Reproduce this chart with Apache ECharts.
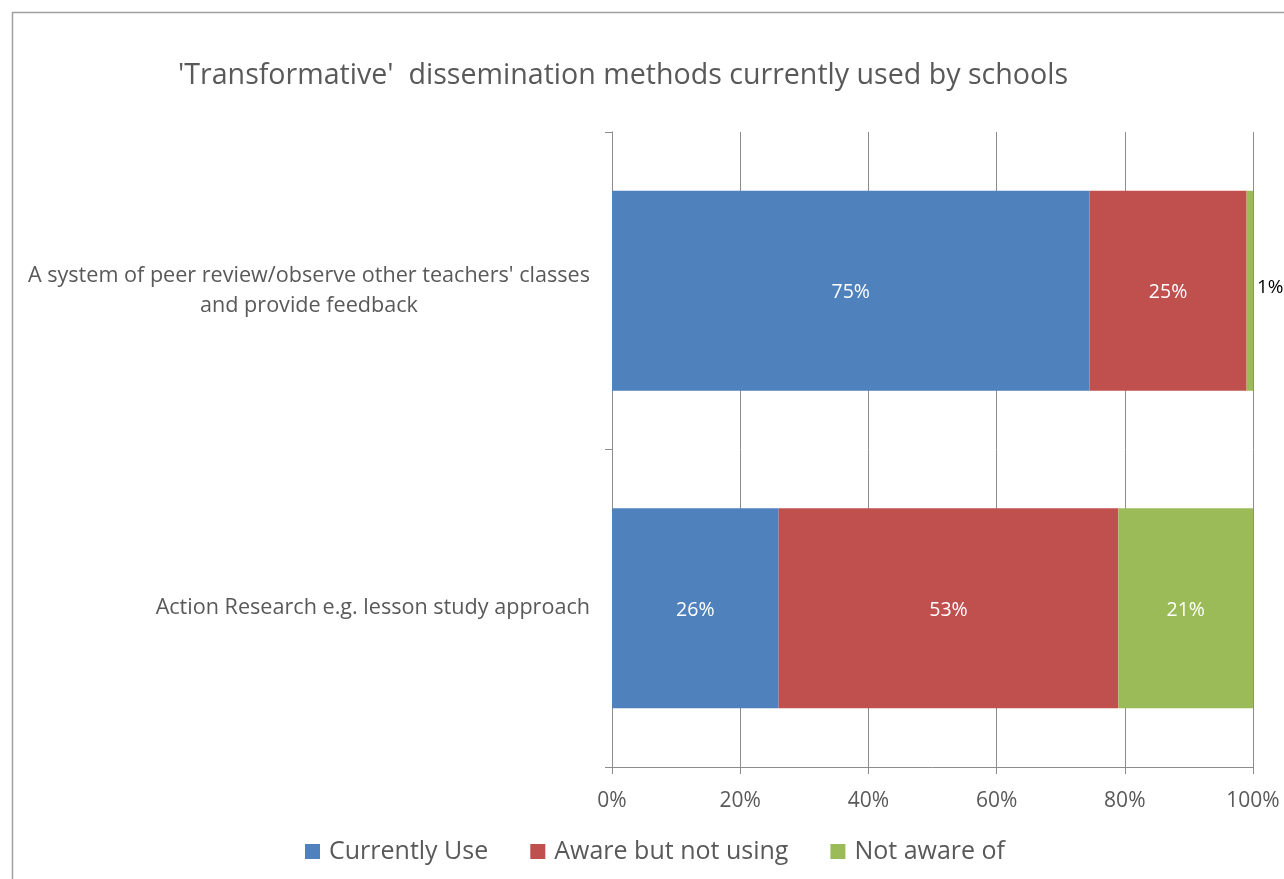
<!DOCTYPE html>
<html>
<head>
<meta charset="utf-8">
<script src="https://cdn.jsdelivr.net/npm/echarts@6/dist/echarts.min.js"></script>
<style>
html,body{margin:0;padding:0;background:#fff;}
#chart{width:1284px;height:879px;}
</style>
</head>
<body>
<div id="chart"></div>
<script>
var titleText = "'Transformative'  dissemination methods currently used by schools";
var categories = [
  "A system of peer review/observe other teachers' classes\nand provide feedback",
  "Action Research e.g. lesson study approach"
];
var seriesNames = ["Currently Use", "Aware but not using", "Not aware of"];
var currentlyUse = [74.5, 26];
var awareNotUsing = [24.5, 53];
var notAware = [1.0, 21];
var xTicks = [0, 20, 40, 60, 80, 100];

var colors = ['#4F81BD', '#C0504D', '#9BBB59'];
var FONT = 'Open Sans';
var textGray = '#595959';

function mkData(vals, outsideIdx) {
  return vals.map(function (v, i) {
    var item = { value: v };
    if (outsideIdx && outsideIdx.indexOf(i) >= 0) {
      item.label = { position: 'right', color: '#000', distance: 4, fontSize: 19, offset: [0, -3] };
    }
    return item;
  });
}

var seriesVals = [currentlyUse, awareNotUsing, notAware];
var series = seriesVals.map(function (vals, si) {
  return {
    name: seriesNames[si],
    type: 'bar',
    stack: 'total',
    barCategoryGap: '37%',
    itemStyle: { color: colors[si] },
    label: {
      show: true,
      position: 'inside',
      color: '#fff',
      fontFamily: FONT,
      fontSize: 19.5,
      offset: [0, 2],
      formatter: function (p) { return Math.round(p.value) + '%'; }
    },
    data: mkData(vals, si === 2 ? [0] : null)
  };
});

var chart = echarts.init(document.getElementById('chart'), null, { renderer: 'canvas' });
chart.setOption({
  animation: false,
  graphic: [{
    type: 'rect',
    left: 10, top: 10,
    shape: { width: 1400, height: 1000 },
    style: { fill: 'none', stroke: '#a0a0a0', lineWidth: 1.5 },
    silent: true
  }],
  title: {
    text: titleText,
    left: 173,
    top: 56,
    textStyle: { fontFamily: FONT, fontSize: 28.6, fontWeight: 'normal', color: textGray }
  },
  legend: {
    bottom: 10,
    left: 300,
    itemWidth: 15,
    itemHeight: 15,
    itemGap: 42,
    icon: 'rect',
    textStyle: { fontFamily: FONT, fontSize: 25, color: textGray, padding: [0, 0, 0, 4] },
    data: seriesNames
  },
  grid: { left: 612, right: 31, top: 132, bottom: 112, containLabel: false },
  xAxis: {
    type: 'value',
    min: 0, max: 100, interval: 20,
    axisLine: { show: true, lineStyle: { color: '#8c8c8c', width: 1 } },
    axisTick: { show: true, length: 7, lineStyle: { color: '#8c8c8c' } },
    splitLine: { show: true, lineStyle: { color: '#8c8c8c', width: 1 } },
    axisLabel: {
      fontFamily: FONT, fontSize: 21, color: textGray, margin: 24,
      formatter: function (v) { return v + '%'; }
    }
  },
  yAxis: {
    type: 'category',
    inverse: true,
    data: categories,
    axisLine: { show: true, lineStyle: { color: '#8c8c8c', width: 1 } },
    axisTick: { show: true, length: 7, lineStyle: { color: '#8c8c8c' } },
    axisLabel: {
      fontFamily: FONT, fontSize: 21.6, color: textGray, margin: 22, lineHeight: 30,
      formatter: function (v) {
        return v.split('\n').map(function (l) { return '{c|' + l + '}'; }).join('\n');
      },
      rich: { c: { fontFamily: FONT, fontSize: 21.6, color: textGray, align: 'center', lineHeight: 30 } }
    }
  },
  series: series
});
</script>
</body>
</html>
